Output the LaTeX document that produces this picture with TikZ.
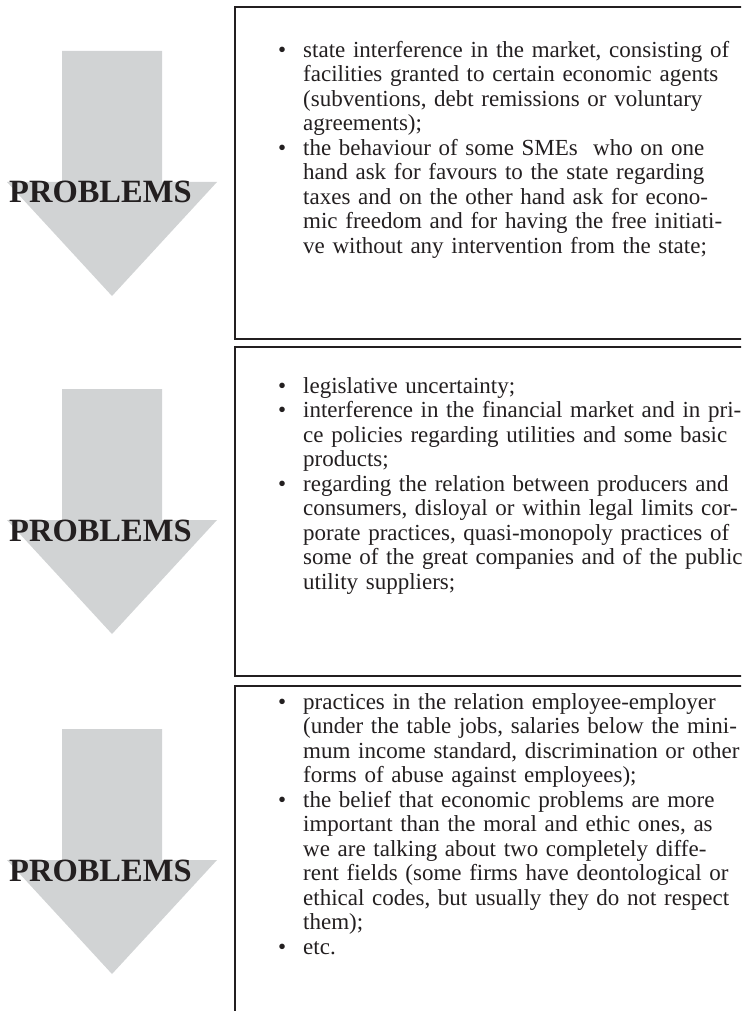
\documentclass[tikz,border=0pt]{standalone}
\usepackage{fontspec}
\setmainfont{Liberation Serif}

\definecolor{arrowgray}{HTML}{D1D3D4}
\definecolor{ink}{HTML}{231F20}

% width of the justified text column inside each frame
\newlength{\colw}
\setlength{\colw}{425pt}
% a justified line, a hanging bullet, and a strut that fixes the first baseline
\newcommand{\jline}[1]{\makebox[\colw][s]{#1}}
\newcommand{\bul}{\leavevmode\llap{\textbullet\hspace{17pt}}}
\newcommand{\firstrule}{\rule{0pt}{18pt}}

\tikzset{
  frame/.style={draw=ink, line width=2pt, rectangle, inner sep=0pt, outer sep=0pt,
                anchor=north west, minimum width=620pt},
  itemtext/.style={anchor=north west, inner sep=0pt, text width=\colw, align=left,
                   font=\fontsize{23}{24.5}\selectfont, text=ink},
  problabel/.style={anchor=base west, inner sep=0pt, text=ink,
                    font=\fontsize{32.5}{36}\selectfont\bfseries},
  problem arrow/.pic={
    \fill[arrowgray] (-50,0) -- (50,0) -- (50,131) -- (105,131) -- (0,245)
                     -- (-105,131) -- (-50,131) -- cycle;
    \node[problabel] (-label) at (-103,152) {PROBLEMS};
  }
}

\begin{document}
\begin{tikzpicture}[x=1pt, y=-1pt]
\useasboundingbox (0,0) rectangle (741,1011);
\clip (0,0) rectangle (741,1011);

% the three downward arrows
\pic (arrowA) at (112,51)  {problem arrow};
\pic (arrowB) at (112,389) {problem arrow};
\pic (arrowC) at (112,729) {problem arrow};

% frames, running off the right (and last one off the bottom) edge
\node[frame, minimum height=332pt] (boxA) at (235,7)   {};
\node[frame, minimum height=329pt] (boxB) at (235,347) {};
\node[frame, minimum height=400pt] (boxC) at (235,686) {};

% lists of problems
\node[itemtext] (listA) at (303,39) {\noindent\firstrule\bul\jline{state interference in the market, consisting of}\\
\jline{facilities granted to certain economic agents}\\
\jline{(subventions, debt remissions or voluntary}\\
agreements);\\
\bul\jline{the behaviour of some SMEs\ \ who on one}\\
\jline{hand ask for favours to the state regarding}\\
\jline{taxes and on the other hand ask for econo-}\\
\jline{mic freedom and for having the free initiati-}\\
ve without any intervention from the state;};

\node[itemtext] (listB) at (303,375) {\noindent\firstrule\bul legislative uncertainty;\\
\bul\jline{interference in the financial market and in pri-}\\
\jline{ce policies regarding utilities and some basic}\\
products;\\
\bul\jline{regarding the relation between producers and}\\
\jline{consumers, disloyal or within legal limits cor-}\\
\jline{porate practices, quasi-monopoly practices of}\\
\jline{some of the great companies and of the public}\\
utility suppliers;};

\node[itemtext] (listC) at (303,691) {\noindent\firstrule\bul\jline{practices in the relation employee-employer}\\
\jline{(under the table jobs, salaries below the mini-}\\
\jline{mum income standard, discrimination or other}\\
forms of abuse against employees);\\
\bul\jline{the belief that economic problems are more}\\
\jline{important than the moral and ethic ones, as}\\
\jline{we are talking about two completely diffe-}\\
\jline{rent fields (some firms have deontological or}\\
\jline{ethical codes, but usually they do not respect}\\
them);\\
\bul etc.};
\end{tikzpicture}
\end{document}
